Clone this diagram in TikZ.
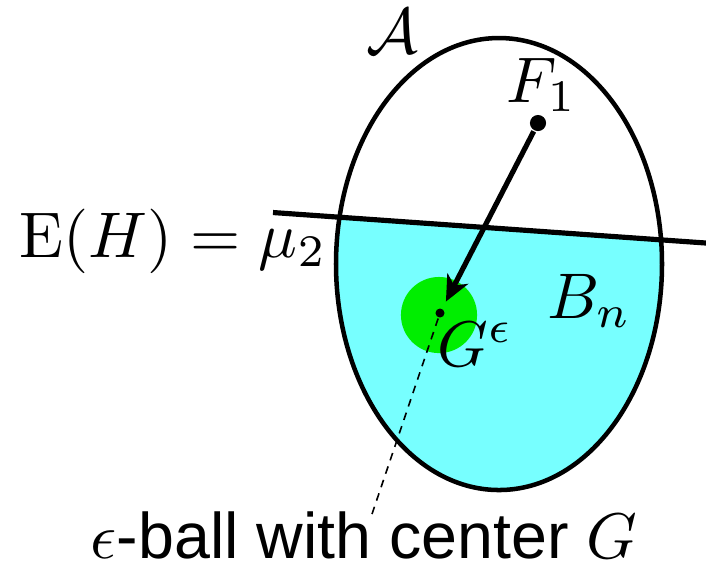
\documentclass[tikz,border=0pt]{standalone}
\usepackage{fontspec}
\setsansfont{Liberation Sans}
\usetikzlibrary{arrows.meta}
\definecolor{ballgreen}{RGB}{0,238,0}
\definecolor{regioncyan}{RGB}{119,255,255}

\begin{document}
\begin{tikzpicture}[x=0.155pt, y=-0.155pt,
  every node/.style={font=\normalsize},
  dotnode/.style={circle, fill=black, inner sep=0pt, minimum size=#1},
  lbl/.style={inner sep=0pt},
  ar/.style={-{Stealth[length=4pt, width=3.6pt, inset=1.2pt]}, line width=0.8pt, shorten >=1.1pt}]
\useasboundingbox (0,0) rectangle (706,576);

% ---------------- region B_n below the line ----------------
\begin{scope}
  \clip (499,264) ellipse [x radius=163, y radius=226];
  \fill[regioncyan] (273,212.5) -- (706,243) -- (706,576) -- (273,576) -- cycle;
\end{scope}

% ---------------- epsilon-ball ----------------
\node[circle, fill=ballgreen, inner sep=0pt, minimum size=11.8pt] (ball) at (439,315) {};

% ---------------- set A and the hyperplane ----------------
\draw[line width=0.7pt] (499,264) ellipse [x radius=163, y radius=226];
\coordinate (lineL) at (273,212.5);
\coordinate (lineR) at (706,243);
\draw[line width=0.8pt] (lineL) -- (lineR);

% ---------------- points ----------------
\node[dotnode=2.5pt] (f1) at (538,123) {};
\node[dotnode=1.4pt] (g) at (440,313) {};

% ---------------- labels ----------------
\node[lbl, anchor=base west] (la) at (365,53) {$\mathcal{A}$};
\node[lbl, anchor=base west] (lf) at (505,102) {$F_1$};
\node[lbl, anchor=base east] (lmu) at (328,257) {$\mathrm{E}(H)=\mu_2$};
\node[lbl, anchor=base west] (lb) at (546,318) {$B_n$};
\node[lbl, anchor=base west] (lg) at (436,366) {$G^{\epsilon}$};
\node[lbl, anchor=base, font=\sffamily] (lball) at (364,558) {$\epsilon$-ball with center $G$};
\coordinate (dashend) at (372,514);

% ---------------- connectors ----------------
\draw[ar] (f1) -- (g);
\draw[line width=0.25pt, dash pattern=on 1.2pt off 1pt] (g) -- (dashend);
\end{tikzpicture}
\end{document}
